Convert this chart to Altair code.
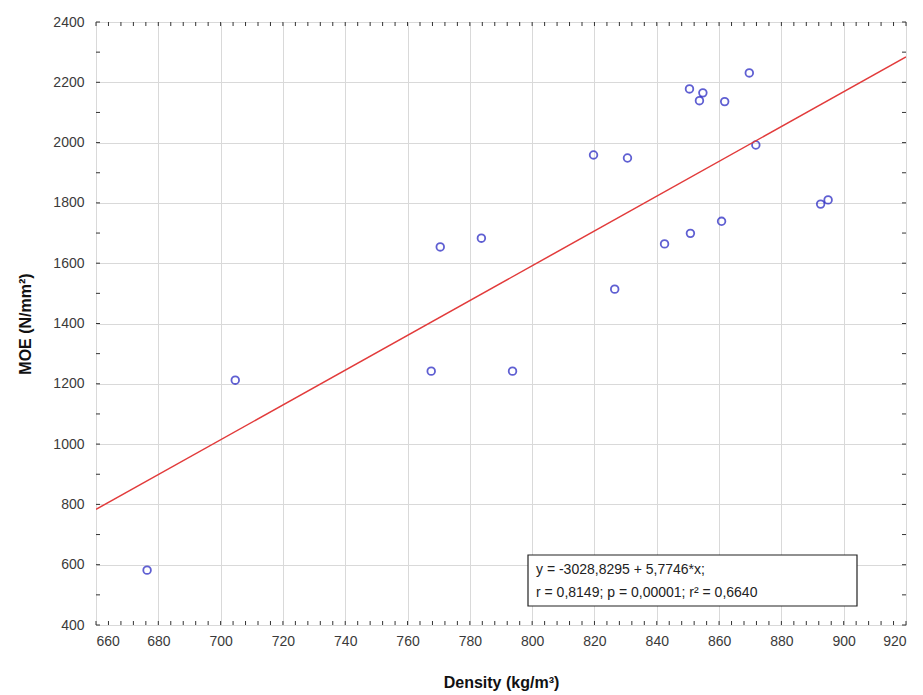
import altair as alt
import pandas as pd

density = [676.4, 704.7, 767.6, 770.5, 783.7, 793.7, 819.7, 826.5, 830.6, 842.5,
           850.5, 854.8, 853.7, 861.8, 869.7, 871.8, 850.8, 860.8, 892.6, 895.0]
moe = [582, 1212, 1242, 1654, 1683, 1242, 1959, 1514, 1949, 1664,
       2178, 2165, 2139, 2136, 2231, 1992, 1699, 1739, 1796, 1810]

x_major = list(range(660, 921, 20))
x_minor = [v for v in range(660, 921, 4) if v % 20 != 0]
y_major = list(range(400, 2401, 200))
y_minor = list(range(500, 2400, 200))

eq_line1 = "y = -3028,8295 + 5,7746*x;"
eq_line2 = "r = 0,8149; p = 0,00001; r² = 0,6640"
x_title = "Density (kg/m³)"
y_title = "MOE (N/mm²)"

W, H = 810, 603
FONT = "Liberation Sans"

df = pd.DataFrame({"x": density, "y": moe})
xs = alt.Scale(domain=[660, 920], nice=False, zero=False)
ys = alt.Scale(domain=[400, 2400], nice=False, zero=False)

xaxis = alt.Axis(values=x_major, format="d", grid=True, gridColor="#d9d9d9", ticks=False,
                 domain=False, labelFont=FONT, labelFontSize=14, labelColor="#3a3a3a",
                 labelPadding=9, titleFont=FONT, titleFontSize=16, titleFontWeight="bold",
                 titleColor="#111", titlePadding=26, orient="bottom")
yaxis = alt.Axis(values=y_major, format="d", grid=True, gridColor="#d9d9d9", ticks=False,
                 domain=False, labelFont=FONT, labelFontSize=14, labelColor="#3a3a3a",
                 labelPadding=12, titleFont=FONT, titleFontSize=16, titleFontWeight="bold",
                 titleColor="#111", titlePadding=19, orient="left")


def X(field):
    return alt.X(field, scale=xs, title=x_title, axis=xaxis)


def Y(field):
    return alt.Y(field, scale=ys, title=y_title, axis=yaxis)


base = alt.Chart(df)

points = base.mark_point(shape="circle", filled=False, size=58, strokeWidth=1.8,
                         color="#1c1cc0", clip=True).encode(x=X("x:Q"), y=Y("y:Q"))

line = base.transform_regression("x", "y", extent=[660, 920]).mark_line(
    color="#e23b3b", strokeWidth=1.5, clip=True).encode(x=X("x:Q"), y=Y("y:Q"))

# inside ticks (major and minor) on all four sides
xt = pd.DataFrame({"x": x_major + x_minor})
yt = pd.DataFrame({"y": y_major + y_minor})

tick_style = dict(color="#333", strokeWidth=1)
xb = alt.Chart(xt).mark_rule(**tick_style).encode(
    x=X("x:Q"), y=alt.value(H), y2=alt.value(H - 4))
xtop = alt.Chart(xt).mark_rule(**tick_style).encode(
    x=X("x:Q"), y=alt.value(0), y2=alt.value(4))
yl = alt.Chart(yt).mark_rule(**tick_style).encode(
    y=Y("y:Q"), x=alt.value(0), x2=alt.value(4))
yr = alt.Chart(yt).mark_rule(**tick_style).encode(
    y=Y("y:Q"), x=alt.value(W), x2=alt.value(W - 4))

# annotation box
one = pd.DataFrame({"a": [0]})
box = alt.Chart(one).mark_rect(
    fill="white", stroke="#222", strokeWidth=1.2).encode(
    x=alt.value(432), x2=alt.value(761), y=alt.value(533), y2=alt.value(584))
t1 = alt.Chart(one).mark_text(align="left", baseline="middle", font=FONT, fontSize=14,
                              color="#222", text=eq_line1).encode(
    x=alt.value(440), y=alt.value(548))
t2 = alt.Chart(one).mark_text(align="left", baseline="middle", font=FONT, fontSize=14,
                              color="#222", text=eq_line2).encode(
    x=alt.value(440), y=alt.value(571))

chart = alt.layer(points, line, xb, xtop, yl, yr, box, t1, t2).properties(
    width=W, height=H,
    autosize=alt.AutoSizeParams(type="none"),
    padding={"left": 88, "top": 14, "right": 9, "bottom": 70},
).configure_view(stroke="#222", strokeWidth=1.3).configure(background="white")

chart.save("out.html", embed_options={"renderer": "svg", "actions": False})
